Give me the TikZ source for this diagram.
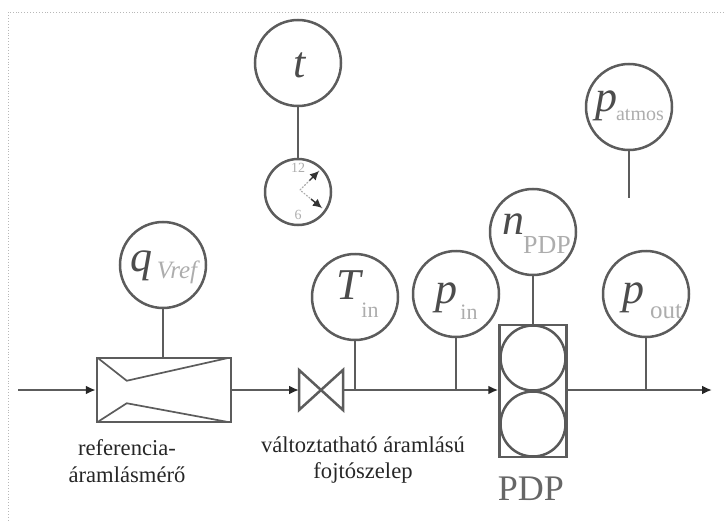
\documentclass[tikz,border=0pt]{standalone}
\usepackage{fontspec}
\setmainfont{Liberation Serif}
\usetikzlibrary{arrows.meta,calc}
\definecolor{inkc}{gray}{0.36}
\definecolor{subc}{gray}{0.68}
\definecolor{dotc}{gray}{0.72}
\tikzset{
  x=1pt,y=-1pt,
  line/.style={draw=inkc,line width=2.5pt},
  flow/.style={line,-{Latex[length=10pt,width=9pt,color=black!85,fill=black!85]}},
  gauge/.style={circle,draw=inkc,line width=2.5pt,minimum size=86pt,inner sep=0pt},
  rollc/.style={circle,draw=black!65,line width=2.5pt,minimum size=65pt,inner sep=0pt},
  boxn/.style={rectangle,draw=inkc,line width=2.5pt,inner sep=0pt},
  varl/.style={inner sep=0pt,font=\fontsize{44}{44}\selectfont\itshape,text=black!70},
  subl/.style={inner sep=0pt,font=\fontsize{24}{24}\selectfont,text=subc},
  capl/.style={inner sep=0pt,align=center,font=\fontsize{22.6}{26.5}\selectfont,text=black!85},
  clockn/.style={inner sep=0pt,font=\fontsize{14}{14}\selectfont,text=subc},
  handl/.style={draw=subc,line width=1.2pt,dotted,line cap=round},
  handtip/.style={draw=black!80,line width=1.4pt,-{Latex[length=9pt,width=9pt,color=black!80,fill=black!80]}},
}
\begin{document}
\begin{tikzpicture}
\useasboundingbox (0,0) rectangle (724,522);
\draw[dotc,line width=0.9pt,dotted] (724,12) -- (8,12) -- (8,522);

% gauges
\node[gauge] (t) at (298,63) {};
\node[gauge,minimum size=66pt] (clock) at (298,192) {};
\node[gauge] (q) at (163,265) {};
\node[gauge] (T) at (355,297) {};
\node[gauge] (pin) at (456,294) {};
\node[gauge] (n) at (533,232) {};
\node[gauge] (pout) at (646,294) {};
\node[gauge] (patm) at (629,107) {};

% gauge text
\node[varl] (tv) at (300,65) {t};
\node[varl] (qv) at (141,266) {q};
\node[subl,font=\fontsize{25}{25}\selectfont\itshape] (qs) at (177,272) {Vref};
\node[varl] (Tv) at (349,285) {T};
\node[subl,font=\fontsize{22}{22}\selectfont] (Ts) at (370,310) {in};
\node[varl] (pv) at (446,298) {p};
\node[subl,font=\fontsize{22}{22}\selectfont] (ps) at (469,312) {in};
\node[varl] (nv) at (513,224) {n};
\node[subl,font=\fontsize{26}{26}\selectfont] (ns) at (547,245) {PDP};
\node[varl] (ov) at (633,298) {p};
\node[subl,font=\fontsize{25}{25}\selectfont] (os) at (666,312) {out};
\node[varl] (av) at (606,106) {p};
\node[subl,font=\fontsize{20}{20}\selectfont] (as) at (640,115) {atmos};

% clock
\node[clockn] (c12) at (298,168) {12};
\node[clockn] (c6) at (298,215) {6};
\coordinate (hub) at (300,190);
\coordinate (h1) at (319,171);
\coordinate (h2) at (322,208);
\draw[handl] (h1) -- (hub) -- (h2);
\draw[handtip] ($(hub)!0.5!(h1)$) -- (h1);
\draw[handtip] ($(hub)!0.5!(h2)$) -- (h2);

% process elements
\node[boxn,minimum width=134pt,minimum height=64pt] (meter) at (164,390) {};
\draw[line,line width=1.7pt] (meter.north west) ++(3,2) -- ++(28,22) -- (228,358);
\draw[line,line width=1.7pt] (meter.south west) ++(3,-2) -- ++(28,-18) -- (228,422);
\coordinate (vc) at (321,390);
\coordinate (v1) at (299,370);
\coordinate (v2) at (299,410);
\coordinate (v3) at (343,370);
\coordinate (v4) at (343,410);
\draw[line,line join=miter] (vc) -- (v1) -- (v2) -- cycle;
\draw[line,line join=miter] (vc) -- (v3) -- (v4) -- cycle;
\node[boxn,minimum width=67pt,minimum height=132pt] (pdp) at (533,391) {};
\node[rollc] (r1) at (533,358) {};
\node[rollc] (r2) at (533,424) {};

% pipe
\coordinate (start) at (18,390);
\coordinate (endp) at (712,390);
\coordinate (jT) at (355,390);
\coordinate (jp) at (456,390);
\coordinate (jo) at (646,390);
\draw[flow] (start) -- (meter.west);
\draw[flow] (meter.east) -- (v1 |- vc);
\draw[line] (v3 |- vc) -- (jT);
\draw[flow] (jT) -- (pdp.west |- jT);
\draw[flow] (pdp.east |- jT) -- (endp);

% stems
\coordinate (atmend) at (629,198);
\draw[line] (t) -- (clock);
\draw[line] (q) -- (q |- meter.north);
\draw[line] (T) -- (jT);
\draw[line] (pin) -- (jp);
\draw[line] (n) -- (pdp.north);
\draw[line] (pout) -- (jo);
\draw[line] (patm) -- (atmend);

% captions
\node[capl] (cap1) at (127,461) {referencia-\\áramlásmérő};
\node[capl] (cap2) at (363,460) {változtatható áramlású\\fojtószelep};
\node[inner sep=0pt,font=\fontsize{36}{36}\selectfont,text=black!60] (cap3) at (531,488.5) {PDP};
\end{tikzpicture}
\end{document}
